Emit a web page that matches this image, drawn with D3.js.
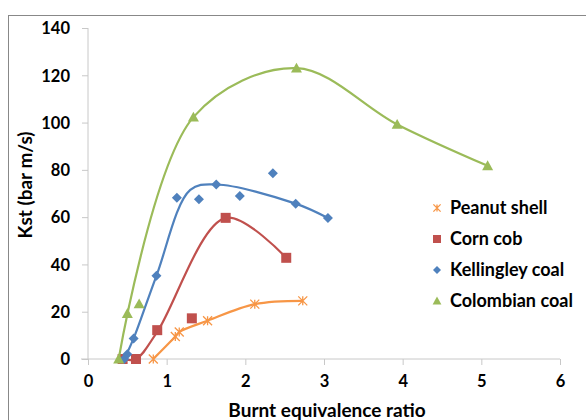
<!DOCTYPE html>
<html><head><meta charset="utf-8">
<script src="https://cdn.jsdelivr.net/npm/d3@7"></script>
<style>
html,body{margin:0;padding:0;background:#fff;}
text{font-family:Lato,"Open Sans",sans-serif;font-weight:bold;fill:#000;}
</style></head>
<body><svg id="c" width="586" height="420"></svg>
<script>
// ---- data ----
const seriesNames = ["Peanut shell","Corn cob","Kellingley coal","Colombian coal"];
const xTicks = [0,1,2,3,4,5,6];
const yTicks = [0,20,40,60,80,100,120,140];

const peanutX = [0.83,1.11,1.16,1.52,2.12,2.73];
const peanutY = [0,9.5,11.4,16.2,23.2,24.6];
const peanutLineX = [0.83,1.11,1.16,1.52,2.12,2.73];
const peanutLineY = [0,9.5,11.4,16.2,23.2,24.6];

const cornX = [0.44,0.61,0.88,1.32,1.75,2.52];
const cornY = [0,0,12.2,17.2,59.7,42.8];
const cornLineX = [0.44,0.61,0.88,1.75,2.52];
const cornLineY = [0,0,11.5,59.7,42.8];

const kellX = [0.46,0.50,0.58,0.87,1.13,1.41,1.63,1.93,2.35,2.64,3.05];
const kellY = [0,2,8.7,35.2,68.2,67.6,73.8,68.9,78.6,65.7,59.6];
const kellLineX = [0.46,0.58,0.87,1.3,1.63,2.64,3.05];
const kellLineY = [0,8.7,35.2,71.5,73.8,65.7,59.6];

const colX = [0.39,0.50,0.65,1.34,2.65,3.93,5.08];
const colY = [0,19.2,23.3,102.3,123,99.2,81.7];
const colLineX = [0.39,1.34,2.65,3.93,5.08];
const colLineY = [0,102.3,123,99.2,81.7];

const colors = ["#f79646","#c0504d","#4f81bd","#9bbb59"];

// ---- chart ----
const svg = d3.select("#c");
svg.append("rect").attr("x",8.5).attr("y",15.5).attr("width",600).attr("height",420)
  .attr("fill","none").attr("stroke","#888").attr("stroke-width",1);

const x = d3.scaleLinear().domain([0,6]).range([88,560]);
const y = d3.scaleLinear().domain([0,140]).range([359,28]);

const yAx = svg.append("g").attr("transform","translate("+x(0)+",0)")
  .call(d3.axisLeft(y).tickValues(yTicks).tickSize(6).tickPadding(12).tickFormat(d3.format("d")));
yAx.select(".domain").attr("stroke","#c8c8c8").attr("d","M0,"+y(140)+"V"+y(0));
yAx.selectAll(".tick line").attr("stroke","#c8c8c8");
yAx.selectAll(".tick text").attr("font-size",16.5).attr("font-family","Lato,sans-serif").attr("font-weight","bold").attr("fill","#000").attr("dy","0.35em");

const xAx = svg.append("g").attr("transform","translate(0,"+y(0)+")")
  .call(d3.axisBottom(x).tickValues(xTicks).tickSize(6).tickPadding(10).tickFormat(d3.format("d")));
xAx.select(".domain").attr("stroke","#c8c8c8").attr("d","M"+(x(0)-7)+",0H"+x(6));
xAx.selectAll(".tick line").attr("stroke","#c8c8c8");
xAx.selectAll(".tick text").attr("font-size",16.5).attr("font-family","Lato,sans-serif").attr("font-weight","bold").attr("fill","#000").attr("dy","0.75em");

svg.append("text").attr("x",327).attr("y",417).attr("text-anchor","middle")
  .attr("font-size",19).text("Burnt equivalence ratio");
svg.append("text").attr("transform","translate(32,185) rotate(-90)")
  .attr("text-anchor","middle").attr("font-size",19).text("Kst (bar m/s)");

const series = [
  {mx:peanutX,my:peanutY,lx:peanutLineX,ly:peanutLineY,sym:"ast"},
  {mx:cornX,my:cornY,lx:cornLineX,ly:cornLineY,sym:"sq"},
  {mx:kellX,my:kellY,lx:kellLineX,ly:kellLineY,sym:"dia"},
  {mx:colX,my:colY,lx:colLineX,ly:colLineY,sym:"tri"}
];

const line = d3.line().x(d=>x(d[0])).y(d=>y(d[1])).curve(d3.curveCatmullRom.alpha(0.5));

function marker(g, type, color, px, py, s){
  s = s || 1;
  if(type==="sq"){
    g.append("rect").attr("x",px-5*s).attr("y",py-5*s).attr("width",10*s).attr("height",10*s).attr("fill",color);
  } else if(type==="dia"){
    const r=5*s;
    g.append("path").attr("d",`M${px},${py-r}L${px+r},${py}L${px},${py+r}L${px-r},${py}Z`).attr("fill",color);
  } else if(type==="tri"){
    const r=5.5*s;
    g.append("path").attr("d",`M${px},${py-r}L${px+r},${py+r*0.8}L${px-r},${py+r*0.8}Z`).attr("fill",color);
  } else {
    const r=4.5*s;
    g.append("path").attr("d",`M${px-r},${py-r}L${px+r},${py+r}M${px-r},${py+r}L${px+r},${py-r}M${px},${py-r}L${px},${py+r}`)
      .attr("stroke",color).attr("stroke-width",1.3).attr("fill","none");
  }
}

series.forEach((s,i)=>{
  const g = svg.append("g");
  const pts = s.lx.map((v,j)=>[v,s.ly[j]]);
  g.append("path").attr("d",line(pts)).attr("fill","none").attr("stroke",colors[i]).attr("stroke-width",2.2);
  s.mx.forEach((v,j)=>marker(g,s.sym,colors[i],x(v),y(s.my[j])));
});

const lg = svg.append("g");
seriesNames.forEach((n,i)=>{
  const ly = 208 + i*31;
  marker(lg, series[i].sym, colors[i], 437, ly, 0.8);
  lg.append("text").attr("x",450).attr("y",ly).attr("dy","0.36em").attr("font-size",18).text(n);
});
</script></body></html>
